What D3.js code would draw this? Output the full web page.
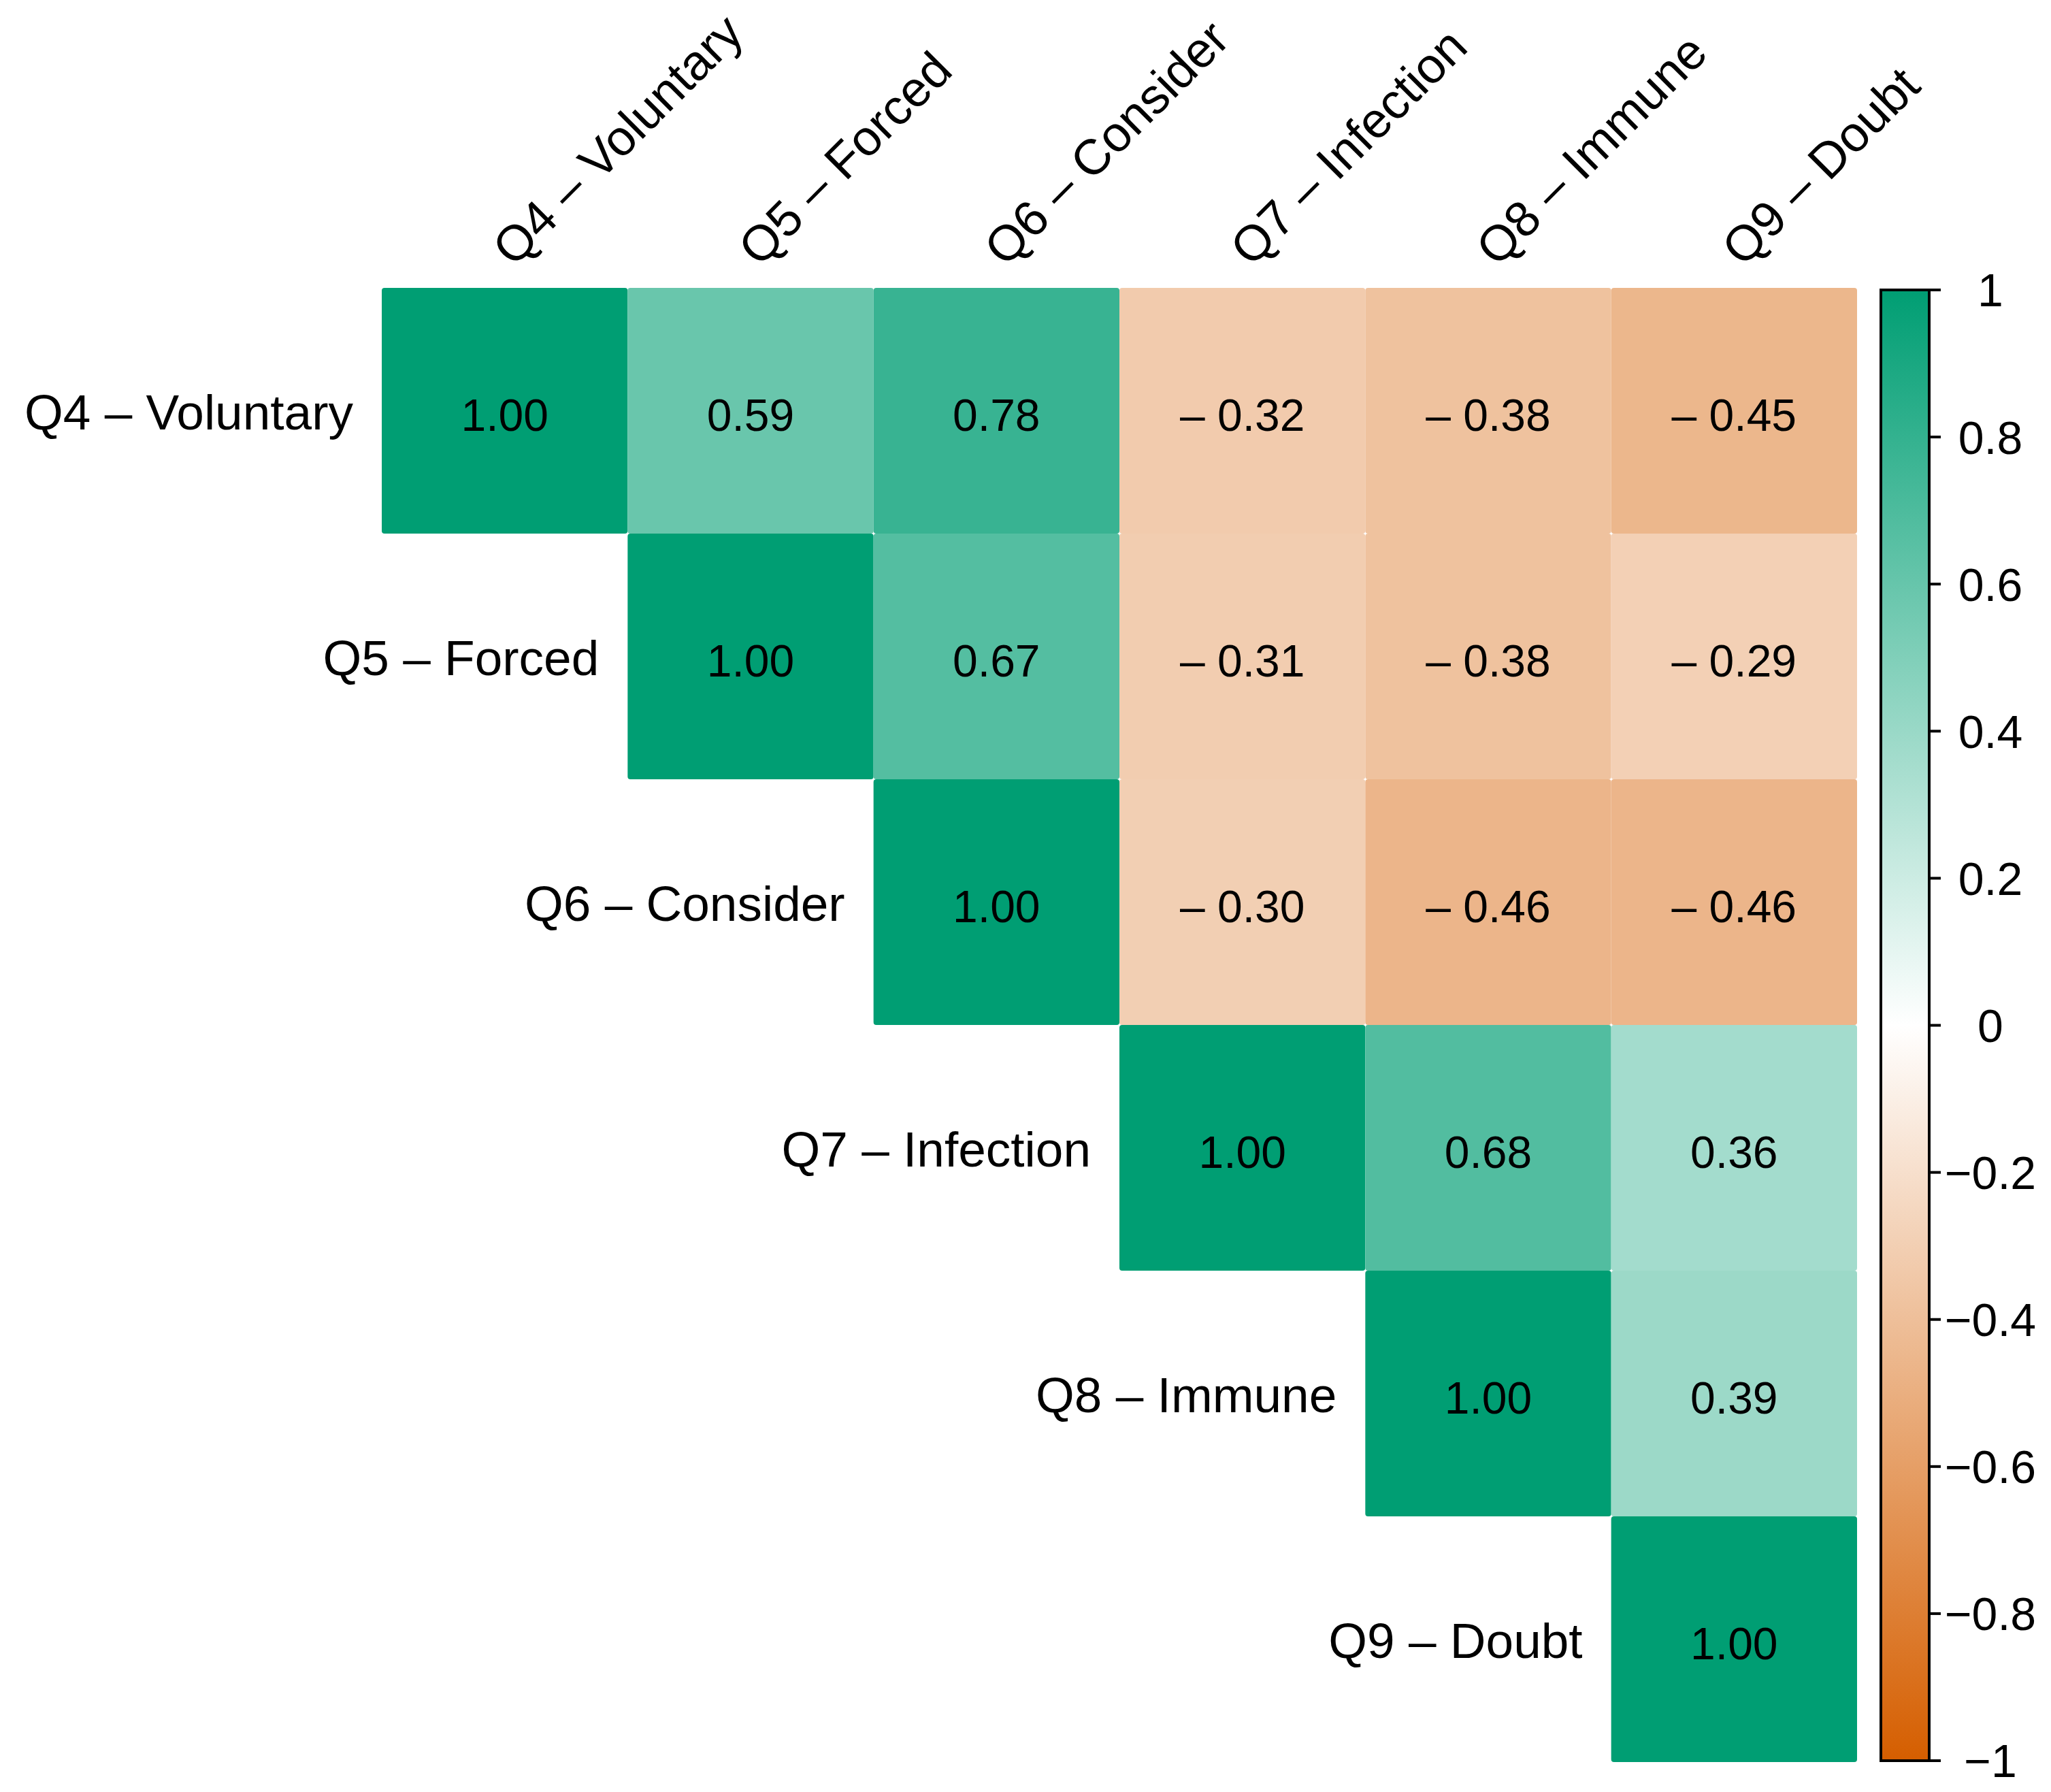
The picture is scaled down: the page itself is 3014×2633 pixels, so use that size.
<html>
<head>
    <meta charset="utf-8">
    <script src="https://d3js.org/d3.v7.min.js"></script>
    <style>
      body { margin: 0; background: #fff; }
      text { font-family: "Liberation Sans", Arial, sans-serif; fill: #000; }
    </style>
</head>
<body>
<div id="my_dataviz"></div>
<script>
    // variable names (rows and columns of the correlation matrix)
    const vars = ["Q4 – Voluntary", "Q5 – Forced", "Q6 – Consider", "Q7 – Infection", "Q8 – Immune", "Q9 – Doubt"];

    // correlation matrix, one array per row (only the upper triangle is drawn)
    const q4 = [1.00, 0.59, 0.78, -0.32, -0.38, -0.45];
    const q5 = [0.59, 1.00, 0.67, -0.31, -0.38, -0.29];
    const q6 = [0.78, 0.67, 1.00, -0.30, -0.46, -0.46];
    const q7 = [-0.32, -0.31, -0.30, 1.00, 0.68, 0.36];
    const q8 = [-0.38, -0.38, -0.46, 0.68, 1.00, 0.39];
    const q9 = [-0.45, -0.29, -0.46, 0.36, 0.39, 1.00];
    const matrix = [q4, q5, q6, q7, q8, q9];

    // colour bar ticks
    const barTicks = [1, 0.8, 0.6, 0.4, 0.2, 0, -0.2, -0.4, -0.6, -0.8, -1];

    const W = 3014, H = 2633;
    const grid = {left: 561, top: 423, right: 2729, bottom: 2589};
    const bar = {left: 2764, right: 2835, top: 426, bottom: 2587};

    const svg = d3.select("#my_dataviz")
      .append("svg")
        .attr("width", W)
        .attr("height", H);

    const x = d3.scaleBand().domain(vars).range([grid.left, grid.right]);
    const y = d3.scaleBand().domain(vars).range([grid.top, grid.bottom]);

    const myColor = d3.scaleLinear()
      .domain([-1, 0, 1])
      .range(["#D55E00", "#FFFFFF", "#009E73"]);

    // flatten the upper triangle
    const cells = [];
    matrix.forEach((row, i) => {
      row.forEach((v, j) => {
        if (j >= i) cells.push({row: vars[i], col: vars[j], value: v});
      });
    });

    const fmt = v => (v < 0 ? "\u2013 " : "") + Math.abs(v).toFixed(2);

    // squares
    svg.append("g").selectAll("rect")
      .data(cells)
      .join("rect")
        .attr("x", d => x(d.col))
        .attr("y", d => y(d.row))
        .attr("width", x.bandwidth())
        .attr("height", y.bandwidth())
        .attr("rx", 4)
        .style("fill", d => myColor(d.value));

    // values inside the cells
    svg.append("g").selectAll("text")
      .data(cells)
      .join("text")
        .attr("x", d => x(d.col) + x.bandwidth() / 2)
        .attr("y", d => y(d.row) + y.bandwidth() / 2)
        .attr("dy", "0.45em")
        .attr("text-anchor", "middle")
        .style("font-size", "66px")
        .text(d => fmt(d.value));

    // row labels, left of the diagonal cell
    svg.append("g").selectAll("text")
      .data(vars)
      .join("text")
        .attr("x", d => x(d) - 42)
        .attr("y", d => y(d) + y.bandwidth() / 2)
        .attr("dy", "0.37em")
        .attr("text-anchor", "end")
        .style("font-size", "73px")
        .text(d => d);

    // column labels, rotated 45 degrees
    svg.append("g").selectAll("text")
      .data(vars)
      .join("text")
        .attr("transform", d => `translate(${x(d) + x.bandwidth() / 2 + 13}, ${grid.top - 29}) rotate(-45)`)
        .attr("text-anchor", "start")
        .style("font-size", "73px")
        .text(d => d);

    // colour bar
    const yBar = d3.scaleLinear().domain([-1, 1]).range([bar.bottom, bar.top]);

    const grad = svg.append("defs").append("linearGradient")
      .attr("id", "barGrad")
      .attr("x1", 0).attr("y1", 1).attr("x2", 0).attr("y2", 0);
    grad.selectAll("stop")
      .data([-1, -0.5, 0, 0.5, 1])
      .join("stop")
        .attr("offset", d => (d + 1) / 2)
        .attr("stop-color", d => myColor(d));

    svg.append("rect")
      .attr("x", bar.left)
      .attr("y", yBar(1))
      .attr("width", bar.right - bar.left)
      .attr("height", yBar(-1) - yBar(1))
      .style("fill", "url(#barGrad)")
      .style("stroke", "#000")
      .style("stroke-width", 4);

    svg.append("g").selectAll("line")
      .data(barTicks)
      .join("line")
        .attr("x1", bar.right)
        .attr("x2", bar.right + 17)
        .attr("y1", d => yBar(d))
        .attr("y2", d => yBar(d))
        .style("stroke", "#000")
        .style("stroke-width", 4);

    svg.append("g").selectAll("text")
      .data(barTicks)
      .join("text")
        .attr("x", 2925)
        .attr("y", d => yBar(d))
        .attr("dy", "0.36em")
        .attr("text-anchor", "middle")
        .style("font-size", "68px")
        .text(d => (d < 0 ? "\u2212" : "") + String(Math.abs(d)));
</script>
</body>
</html>
